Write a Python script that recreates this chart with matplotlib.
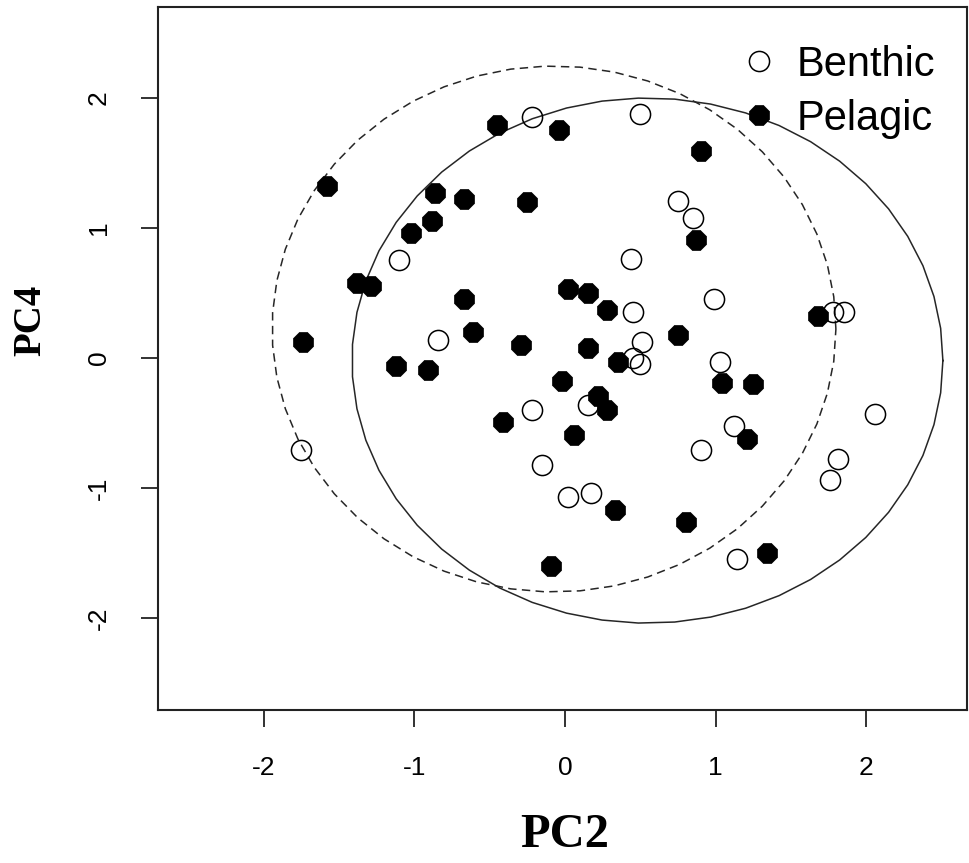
import numpy as np
import matplotlib
matplotlib.use("Agg")
import matplotlib.pyplot as plt
from matplotlib.lines import Line2D

# ---- data ----
benthic_pc2 = [-0.22, 0.50, -1.10, 0.75, 0.85, 0.44, 0.45, -0.84, 0.51, 0.45, 0.50,
               0.15, -0.22, -0.15, 0.02, 0.17, -1.75, 0.99, 1.03, 1.12, 0.90,
               1.78, 1.85, 2.06, 1.81, 1.76, 1.14]
benthic_pc4 = [1.85, 1.88, 0.75, 1.21, 1.08, 0.76, 0.35, 0.14, 0.12, 0.00, -0.05,
               -0.36, -0.40, -0.82, -1.07, -1.04, -0.71, 0.45, -0.03, -0.52, -0.71,
               0.35, 0.35, -0.43, -0.78, -0.94, -1.55]

pelagic_pc2 = [-1.58, -0.86, -0.67, -0.88, -1.02, -1.38, -1.29, -0.67, -0.45, -0.04,
               -0.25, 0.90, 0.87, 0.02, 0.15, 0.28, 0.75, -1.74, -1.12, -0.91,
               -0.61, -0.29, 0.15, 0.35, -0.02, 0.22, 0.28, -0.41, 0.06, 0.33,
               -0.09, 1.04, 1.25, 1.21, 0.80, 1.68, 1.34]
pelagic_pc4 = [1.32, 1.27, 1.22, 1.05, 0.96, 0.58, 0.55, 0.45, 1.79, 1.75,
               1.20, 1.59, 0.91, 0.53, 0.50, 0.37, 0.18, 0.12, -0.06, -0.09,
               0.20, 0.10, 0.08, -0.03, -0.18, -0.29, -0.40, -0.49, -0.59, -1.17,
               -1.60, -0.19, -0.20, -0.62, -1.26, 0.32, -1.50]

# ellipse parameters (centre x, centre y, radius x, radius y)
ellipse_solid = (0.547, -0.02, 1.961, 2.02)
ellipse_dashed = (-0.073, 0.223, 1.871, 2.023)
n_segments = 51

x_ticks = [-2, -1, 0, 1, 2]
y_ticks = [-2, -1, 0, 1, 2]
x_label = "PC2"
y_label = "PC4"
legend_labels = ["Benthic", "Pelagic"]

# ---- figure ----
W, H = 969, 863
fig = plt.figure(figsize=(W / 100, H / 100), dpi=100)
ax = fig.add_axes([158 / W, (H - 710) / H, (967 - 158) / W, (710 - 7) / H])

line_col = "#262626"
sans = ["Liberation Sans", "DejaVu Sans"]
serif = ["Liberation Serif", "DejaVu Serif"]


def ellipse_xy(p, n):
    cx, cy, rx, ry = p
    t = np.linspace(0, 2 * np.pi, n + 1)
    return cx + rx * np.cos(t), cy + ry * np.sin(t)


ex, ey = ellipse_xy(ellipse_dashed, n_segments)
ax.plot(ex, ey, color=line_col, lw=1.1, linestyle=(0, (5.5, 3.5)), zorder=2)
ex, ey = ellipse_xy(ellipse_solid, n_segments)
ax.plot(ex, ey, color=line_col, lw=1.1, linestyle="-", zorder=2)

ax.plot(benthic_pc2, benthic_pc4, linestyle="none", marker="o", ms=14.5,
        mfc="none", mec="black", mew=1.1, zorder=3)
ax.plot(pelagic_pc2, pelagic_pc4, linestyle="none", marker="8", ms=15.5,
        mfc="black", mec="black", mew=0.5, zorder=3)

ax.set_xlim(-2.701, 2.668)
ax.set_ylim(-2.708, 2.700)
ax.set_xticks(x_ticks)
ax.set_yticks(y_ticks)

for s in ax.spines.values():
    s.set_linewidth(1.5)
    s.set_color("#222222")

ax.tick_params(axis="both", direction="out", length=12, width=1.3,
               color="#222222")
ax.tick_params(axis="x", pad=21)
ax.tick_params(axis="y", pad=22)
ax.set_xticklabels([str(v) for v in x_ticks], fontsize=19, family=sans)
ax.set_yticklabels([str(v) for v in y_ticks], fontsize=19, family=sans,
                   rotation=90, va="center", ha="right")

ax.set_xlabel(x_label, fontsize=35, fontweight="bold", family=serif, va="center")
ax.xaxis.set_label_coords((565 - 158) / 809, (710 - 835) / 703)
ax.set_ylabel(y_label, fontsize=28, fontweight="bold", family=serif,
              va="center", ha="center")
ax.yaxis.set_label_coords((31 - 158) / 809, (710 - 320) / 703)

handles = [
    Line2D([], [], linestyle="none", marker="o", ms=14.5, mfc="none", mec="black", mew=1.1),
    Line2D([], [], linestyle="none", marker="8", ms=15.5, mfc="black", mec="black", mew=0.5),
]
fs_leg = 30
fs_px = fs_leg / 0.72
leg = ax.legend(handles, legend_labels, loc="upper left",
                bbox_to_anchor=((739 - 158) / 809, (710 - 45) / 703),
                frameon=False, borderpad=0, borderaxespad=0,
                handlelength=40 / fs_px, handletextpad=18 / fs_px,
                labelspacing=0.33,
                prop={"family": sans, "size": fs_leg})

fig.savefig("out.png", dpi=100)
